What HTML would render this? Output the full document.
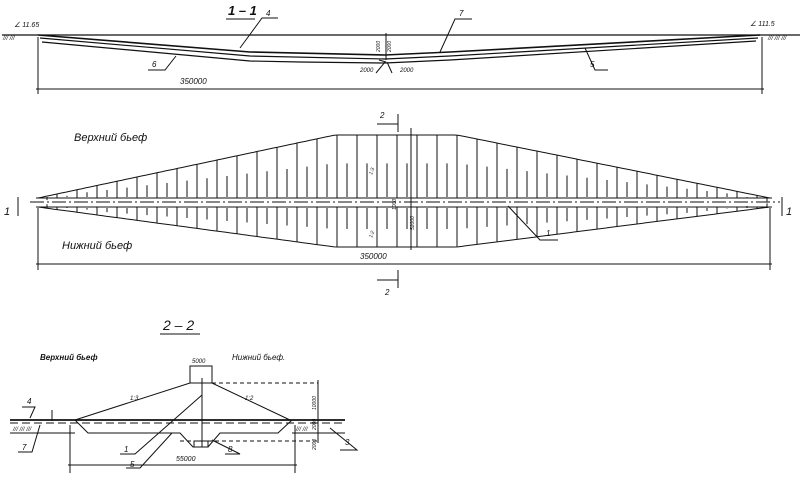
<!DOCTYPE html>
<html><head><meta charset="utf-8"><style>
html,body{margin:0;padding:0;background:#fff;}
svg{display:block;}
text{font-family:"Liberation Sans",sans-serif;font-style:italic;fill:#111;}
</style></head><body>
<svg id="s" width="806" height="499" viewBox="0 0 806 499" xmlns="http://www.w3.org/2000/svg" stroke="#111" fill="none" stroke-width="1">
<text x="228" y="15" font-size="13" stroke="none" font-weight="bold">1 – 1</text>
<line x1="226" y1="19" x2="255" y2="19"/>
<text x="14" y="27" font-size="7" stroke="none">∠ 11.65</text>
<text x="750" y="26" font-size="7" stroke="none">∠ 111.5</text>
<line x1="2" y1="35" x2="800" y2="35" stroke-width="1.2"/>
<text x="3" y="40" font-size="6" stroke="none">/// ///</text>
<text x="768" y="40" font-size="6" stroke="none">/// /// ///</text>
<polyline points="38,35 250,52 385,55 450,52 760,35" stroke-width="1.6"/>
<polyline points="40,38 250,56 385,59 450,56 758,38" stroke-width="1.2"/>
<polyline points="42,42 250,61 300,62 385,63 450,60 756,41" stroke-width="1.2"/>
<line x1="386" y1="33" x2="386" y2="60"/>
<line x1="379" y1="60" x2="386" y2="62"/>
<text x="380" y="52" font-size="5" stroke="none" transform="rotate(-90 380 52)">2000</text>
<text x="391" y="52" font-size="5" stroke="none" transform="rotate(-90 391 52)">2000</text>
<text x="360" y="72" font-size="6" stroke="none">2000</text>
<text x="400" y="72" font-size="6" stroke="none">2000</text>
<line x1="376" y1="73" x2="385" y2="62"/><line x1="392" y1="73" x2="387" y2="62"/>
<text x="266" y="16" font-size="8" stroke="none">4</text>
<polyline points="240,48 262,18 278,18"/>
<text x="459" y="16" font-size="8" stroke="none">7</text>
<polyline points="440,52 455,19 472,19"/>
<text x="152" y="67" font-size="8" stroke="none">6</text>
<polyline points="176,56 165,70 148,70"/>
<text x="590" y="67" font-size="8" stroke="none">5</text>
<polyline points="585,48 595,70 608,70"/>
<line x1="38" y1="37" x2="38" y2="94"/>
<line x1="762" y1="37" x2="762" y2="94"/>
<line x1="36" y1="89" x2="764" y2="89"/>
<text x="180" y="84" font-size="8" stroke="none">350000</text>

<text x="74" y="141" font-size="11" stroke="none">Верхний бьеф</text>
<text x="62" y="249" font-size="11" stroke="none">Нижний бьеф</text>
<g id="plan"></g>
<line x1="30" y1="202" x2="780" y2="202" stroke-dasharray="14,3,2,3"/>
<line x1="36" y1="198" x2="772" y2="198"/>
<line x1="36" y1="207" x2="772" y2="207"/>
<line x1="411" y1="128" x2="411" y2="250"/>
<text x="380" y="118" font-size="8" stroke="none">2</text>
<polyline points="377,124 398,124 398,114 398,132"/>
<text x="385" y="295" font-size="8" stroke="none">2</text>
<polyline points="377,280 398,280 398,270 398,288"/>
<text x="4" y="215" font-size="11" stroke="none">1</text>
<line x1="18" y1="197" x2="18" y2="216"/>
<text x="786" y="215" font-size="11" stroke="none">1</text>
<line x1="782" y1="197" x2="782" y2="216"/>
<text x="396" y="210" font-size="5" stroke="none" transform="rotate(-90 396 210)">1000</text>
<text x="414" y="230" font-size="5" stroke="none" transform="rotate(-90 414 230)">52000</text>
<text x="372" y="175" font-size="5" stroke="none" transform="rotate(-70 372 175)">1:3</text>
<text x="372" y="238" font-size="5" stroke="none" transform="rotate(-70 372 238)">1:2</text>
<text x="546" y="236" font-size="8" stroke="none">1</text>
<polyline points="508,206 540,240 558,240"/>
<line x1="38" y1="208" x2="38" y2="270"/>
<line x1="770" y1="208" x2="770" y2="270"/>
<line x1="36" y1="264" x2="772" y2="264"/>
<text x="360" y="259" font-size="8" stroke="none">350000</text>

<text x="163" y="330" font-size="14" stroke="none">2 – 2</text>
<line x1="160" y1="334" x2="200" y2="334"/>
<text x="40" y="360" font-size="8" stroke="none" font-weight="bold">Верхний бьеф</text>
<text x="232" y="360" font-size="8" stroke="none">Нижний бьеф.</text>
<rect x="190" y="366" width="22" height="17"/>
<text x="192" y="363" font-size="6" stroke="none">5000</text>
<polyline points="75,420 190,383 212,383 290,420"/>
<line x1="212" y1="383" x2="318" y2="383" stroke-dasharray="4,3"/>
<line x1="10" y1="420" x2="345" y2="420" stroke-width="1.8"/>
<line x1="10" y1="423" x2="345" y2="423" stroke-dasharray="8,4"/>
<polyline points="75,420 88,433 180,433 193,447 208,447 220,433 278,433 292,420"/>
<line x1="10" y1="433" x2="75" y2="433"/>
<line x1="292" y1="433" x2="345" y2="433"/>
<line x1="180" y1="441" x2="320" y2="441" stroke-dasharray="4,3"/>
<line x1="202" y1="378" x2="202" y2="447"/>
<rect x="194" y="441" width="14" height="6"/>
<text x="13" y="431" font-size="6" stroke="none">/// /// ///</text>
<text x="296" y="431" font-size="6" stroke="none">/// ///</text>
<text x="130" y="400" font-size="6" stroke="none">1:3</text>
<text x="245" y="400" font-size="6" stroke="none">1:2</text>
<line x1="52" y1="410" x2="52" y2="421"/>
<line x1="318" y1="380" x2="318" y2="443"/>
<text x="316" y="410" font-size="5" stroke="none" transform="rotate(-90 316 410)">10000</text>
<text x="316" y="430" font-size="5" stroke="none" transform="rotate(-90 316 430)">2000</text>
<text x="316" y="450" font-size="5" stroke="none" transform="rotate(-90 316 450)">2000</text>
<text x="27" y="404" font-size="8" stroke="none">4</text>
<polyline points="22,407 35,407 30,418"/>
<text x="22" y="450" font-size="8" stroke="none">7</text>
<polyline points="18,452 32,452 40,425"/>
<text x="124" y="452" font-size="8" stroke="none">1</text>
<polyline points="120,454 135,454 202,395"/>
<text x="130" y="467" font-size="8" stroke="none">5</text>
<polyline points="126,468 140,468 172,433"/>
<text x="228" y="452" font-size="8" stroke="none">8</text>
<polyline points="225,454 240,454 212,440"/>
<text x="345" y="445" font-size="8" stroke="none">3</text>
<polyline points="340,450 357,450 330,428"/>
<line x1="70" y1="425" x2="70" y2="473"/>
<line x1="295" y1="425" x2="295" y2="473"/>
<line x1="68" y1="465" x2="297" y2="465"/>
<text x="176" y="461" font-size="7" stroke="none">55000</text>
</svg>
<script>
(function(){
var g=document.getElementById('plan'),ns='http://www.w3.org/2000/svg';
function add(t,a){var e=document.createElementNS(ns,t);for(var k in a)e.setAttribute(k,a[k]);g.appendChild(e);}
var P=1.0;
function fT(x){if(x<335)return 198-63*Math.pow((x-38)/297,P);if(x<457)return 135;return 198-63*Math.pow((770-x)/313,P);}
function fB(x){if(x<335)return 207+40*Math.pow((x-38)/297,P);if(x<457)return 247;return 207+40*Math.pow((770-x)/313,P);}
var tp=[],bp=[],x;for(x=38;x<=770;x+=4){tp.push(x+','+fT(x).toFixed(1));bp.push(x+','+fB(x).toFixed(1));}
add('polyline',{points:tp.join(' ')});add('polyline',{points:bp.join(' ')});
for(x=57;x<770;x+=20){add('line',{x1:x,y1:fT(x),x2:x,y2:198});add('line',{x1:x,y1:207,x2:x,y2:fB(x)});}
for(x=47;x<770;x+=20){var t=fT(x),b=fB(x);add('line',{x1:x,y1:Math.max(t+4,198-(198-t)*0.55),x2:x,y2:197});add('line',{x1:x,y1:208,x2:x,y2:Math.min(b-4,207+(b-207)*0.55)});}
})();
</script>
</body></html>
